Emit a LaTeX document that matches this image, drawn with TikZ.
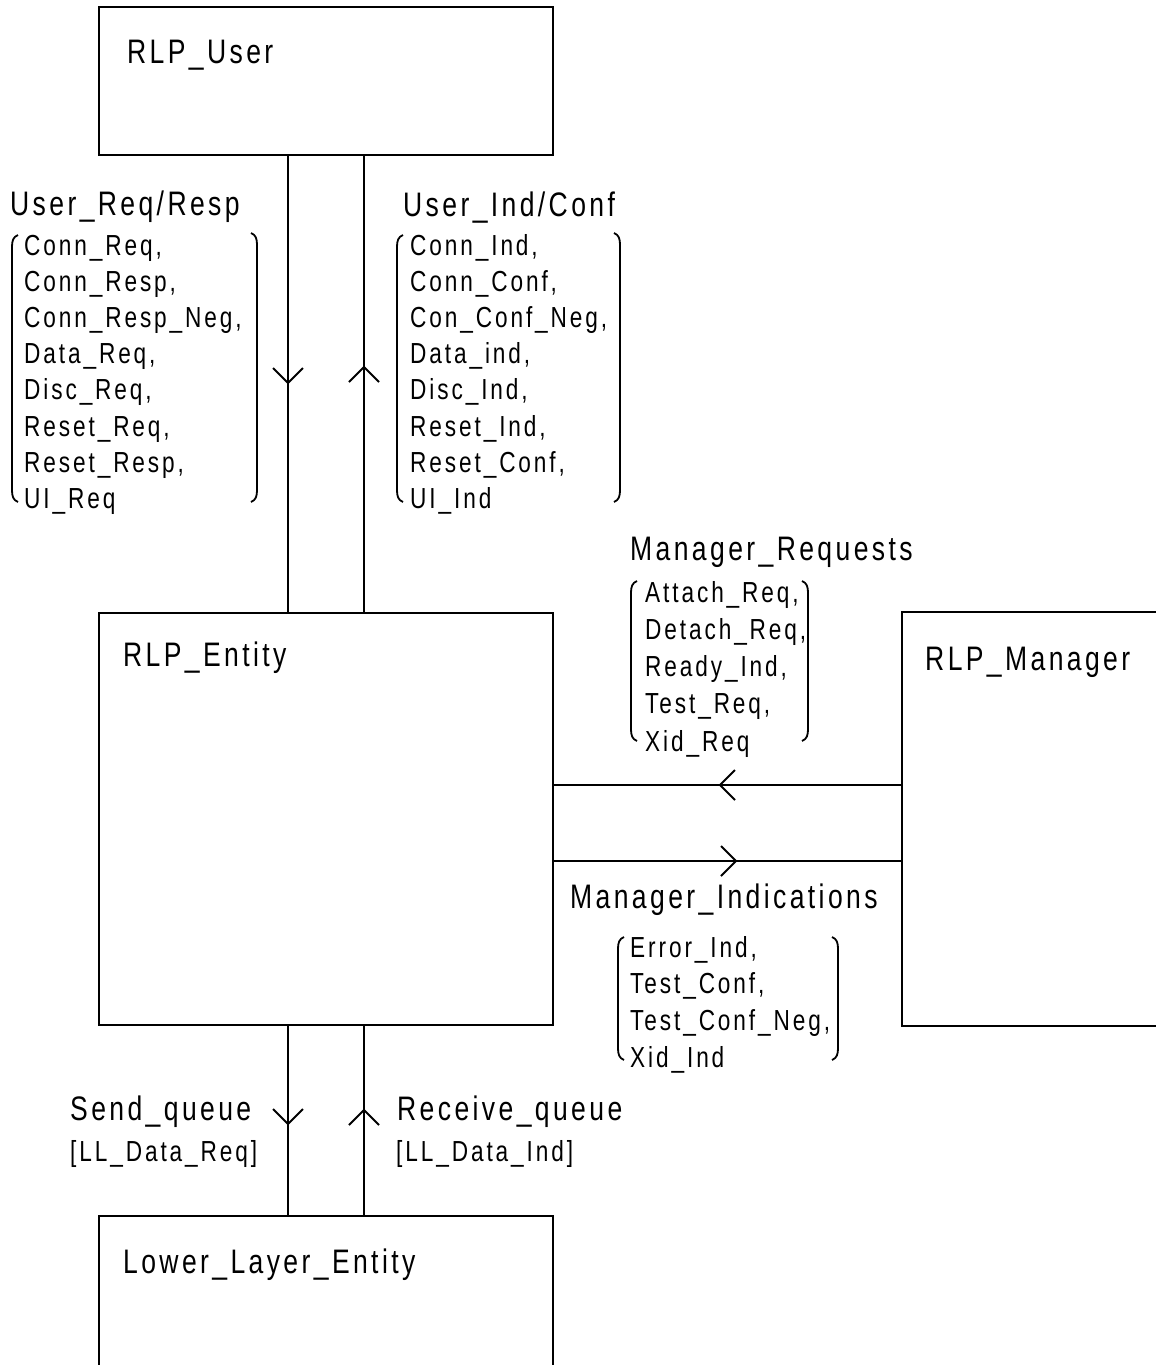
\documentclass[tikz,border=0pt]{standalone}
\usepackage{fontspec}
\setmainfont{Liberation Sans}
\newfontfamily\diagfont{Liberation Sans}[FakeStretch=0.78,LetterSpace=10]
\usetikzlibrary{decorations.markings}
\tikzset{
  boxst/.style={draw, line width=2pt, rectangle, inner sep=0pt, outer sep=0pt, anchor=north west},
  titletxt/.style={font=\diagfont\fontsize{34}{40}\selectfont, inner sep=0pt, anchor=base west},
  itemtxt/.style={font=\diagfont\fontsize{29}{36}\selectfont, inner sep=0pt, anchor=base west},
  conn/.style={line width=2pt},
  vhead/.style={postaction={decorate, decoration={markings, mark=at position #1 with {\draw[line width=2pt] (-15pt,-15pt) -- (0pt,0pt) -- (-15pt,15pt);}}}},
  bracketst/.style={line width=1.8pt},
}
\newcommand{\leftbrk}[3]{\draw[bracketst] (#1+6,#2) .. controls (#1+1,#2+2) and (#1,#2+6) .. (#1,#2+12) -- (#1,#3-12) .. controls (#1,#3-6) and (#1+1,#3-2) .. (#1+6,#3);}
\newcommand{\rightbrk}[3]{\draw[bracketst] (#1-6,#2) .. controls (#1-1,#2+2) and (#1,#2+6) .. (#1,#2+12) -- (#1,#3-12) .. controls (#1,#3-6) and (#1-1,#3-2) .. (#1-6,#3);}
\begin{document}
\begin{tikzpicture}[x=1pt, y=-1pt]
\useasboundingbox (0,0) rectangle (1156,1365);
% boxes
\node[boxst, minimum width=454pt, minimum height=148pt] (user) at (99,7) {};
\node[boxst, minimum width=454pt, minimum height=412pt] (entity) at (99,613) {};
\node[boxst, minimum width=320pt, minimum height=414pt] (manager) at (902,612) {};
\node[boxst, minimum width=454pt, minimum height=220pt] (lower) at (99,1216) {};
% box labels
\node[titletxt] (userlbl) at (127,63) {RLP\_User};
\node[titletxt] (entitylbl) at (123,666) {RLP\_Entity};
\node[titletxt] (managerlbl) at (925,670) {RLP\_Manager};
\node[titletxt] (lowerlbl) at (123,1273) {Lower\_Layer\_Entity};
% connectors
\coordinate (xa) at (288,0);
\coordinate (xb) at (364,0);
\coordinate (ya) at (0,785);
\coordinate (yb) at (0,861);
\draw[conn, vhead=228pt] (user.south -| xa) -- (entity.north -| xa);
\draw[conn, vhead=246pt] (entity.north -| xb) -- (user.south -| xb);
\draw[conn, vhead=182pt] (manager.west |- ya) -- (entity.east |- ya);
\draw[conn, vhead=183pt] (entity.east |- yb) -- (manager.west |- yb);
\draw[conn, vhead=99pt] (entity.south -| xa) -- (lower.north -| xa);
\draw[conn, vhead=106pt] (lower.north -| xb) -- (entity.south -| xb);
% signal group titles
\node[titletxt] (urtitle) at (10,215) {User\_Req/Resp};
\node[titletxt] (uititle) at (403,216) {User\_Ind/Conf};
\node[titletxt] (mrtitle) at (630,560) {Manager\_Requests};
\node[titletxt] (mititle) at (570,908) {Manager\_Indications};
\node[titletxt] (sqtitle) at (70,1120) {Send\_queue};
\node[titletxt] (rqtitle) at (397,1120) {Receive\_queue};
\node[itemtxt] (sqitem) at (70,1161) {[LL\_Data\_Req]};
\node[itemtxt] (rqitem) at (396,1161) {[LL\_Data\_Ind]};
% lists
\foreach \t [count=\i] in {{Conn\_Req,},{Conn\_Resp,},{Conn\_Resp\_Neg,},{Data\_Req,},{Disc\_Req,},{Reset\_Req,},{Reset\_Resp,},{UI\_Req}}
  \node[itemtxt] (ur\i) at (24,{255+36.2*(\i-1)}) {\t};
\foreach \t [count=\i] in {{Conn\_Ind,},{Conn\_Conf,},{Con\_Conf\_Neg,},{Data\_ind,},{Disc\_Ind,},{Reset\_Ind,},{Reset\_Conf,},{UI\_Ind}}
  \node[itemtxt] (ui\i) at (410,{255+36.2*(\i-1)}) {\t};
\foreach \t [count=\i] in {{Attach\_Req,},{Detach\_Req,},{Ready\_Ind,},{Test\_Req,},{Xid\_Req}}
  \node[itemtxt] (mr\i) at (645,{602+37.25*(\i-1)}) {\t};
\foreach \t [count=\i] in {{Error\_Ind,},{Test\_Conf,},{Test\_Conf\_Neg,},{Xid\_Ind}}
  \node[itemtxt] (mi\i) at (630,{957+36.7*(\i-1)}) {\t};
% brackets
\leftbrk{12}{235}{502}
\rightbrk{257}{233}{502}
\leftbrk{397}{235}{502}
\rightbrk{620}{233}{502}
\leftbrk{631}{581}{741}
\rightbrk{808}{581}{741}
\leftbrk{618}{937}{1060}
\rightbrk{838}{937}{1060}
\end{tikzpicture}
\end{document}
